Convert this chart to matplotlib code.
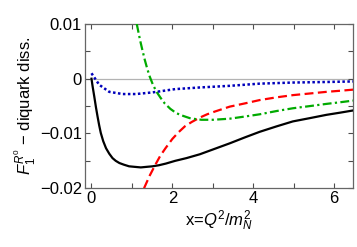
import numpy as np
import matplotlib.pyplot as plt
from matplotlib.ticker import MultipleLocator

plt.rcParams['font.family'] = ['Liberation Sans', 'DejaVu Sans']
plt.rcParams['mathtext.fontset'] = 'custom'
plt.rcParams['mathtext.rm'] = 'Liberation Sans'
plt.rcParams['mathtext.it'] = 'Liberation Sans:italic'

# values
x_black = [0.0, 0.03, 0.07, 0.11, 0.15, 0.19, 0.23, 0.29, 0.36, 0.44, 0.52, 0.60, 0.69, 0.80,
           0.93, 1.07, 1.22, 1.36, 1.51, 1.67, 1.84, 2.07, 2.35, 2.68, 3.05, 3.42, 3.80,
           4.16, 4.58, 4.98, 5.40, 5.81, 6.15, 6.47]
y_black = [0.0, -0.0015, -0.0033, -0.0052, -0.0069, -0.0085, -0.0099, -0.0114, -0.0127,
           -0.0137, -0.0145, -0.0150, -0.0154, -0.0157, -0.0160, -0.0161, -0.0162, -0.0161,
           -0.0160, -0.0158, -0.0155, -0.0150, -0.0145, -0.0138, -0.0128, -0.0118, -0.0107,
           -0.0097, -0.0087, -0.0078, -0.0072, -0.0066, -0.0062, -0.0058]

x_blue = [0.0, 0.19, 0.44, 0.77, 1.10, 1.51, 2.07, 2.68, 3.42, 4.16, 4.98, 5.81, 6.47]
y_blue = [0.0010, -0.0011, -0.0024, -0.0028, -0.0028, -0.0025, -0.0019, -0.0016, -0.0013,
          -0.0009, -0.0007, -0.0006, -0.0005]

x_green = [1.12, 1.20, 1.26, 1.32, 1.38, 1.44, 1.52, 1.61, 1.71, 1.81, 1.95, 2.10, 2.27,
           2.43, 2.60, 2.72, 3.01, 3.42, 3.80, 4.16, 4.58, 4.98, 5.40, 5.81, 6.15, 6.47]
y_green = [0.0100, 0.0071, 0.0052, 0.0034, 0.0018, 0.0004, -0.0011, -0.0024, -0.0035,
           -0.0045, -0.0055, -0.0063, -0.0068, -0.0072, -0.0074, -0.0075, -0.0075, -0.0073,
           -0.0069, -0.0065, -0.0059, -0.0054, -0.0050, -0.0046, -0.0043, -0.0040]

x_red = [1.30, 1.44, 1.58, 1.70, 1.83, 2.0, 2.15, 2.31, 2.48, 2.68, 2.86, 3.05, 3.42, 3.80,
         4.16, 4.58, 4.98, 5.40, 5.81, 6.15, 6.47]
y_red = [-0.0200, -0.0177, -0.0157, -0.0141, -0.0127, -0.0110, -0.0098, -0.0087, -0.0079,
         -0.0071, -0.0065, -0.0060, -0.0051, -0.0045, -0.0039, -0.0034, -0.0030, -0.0027,
         -0.0024, -0.0022, -0.0020]

yticks = [-0.02, -0.01, 0.0, 0.01]
ytick_labels = ['\u22120.02', '\u22120.01', '0', '0.01']
xticks = [0, 2, 4, 6]


def main():
    fig = plt.figure(figsize=(3.57, 2.47), dpi=100)
    ax = fig.add_axes([0.237, 0.238, 0.752, 0.665])

    ax.axhline(0, color='0.7', lw=0.9, zorder=1)
    ax.plot(x_black, y_black, color='black', lw=1.6, zorder=3)
    ax.plot(x_red, y_red, color='#ff0000', lw=1.6, dashes=(4, 2), zorder=3)
    ax.plot(x_green, y_green, color='#00aa00', lw=1.6, dashes=(4, 1.5, 1, 1.5), zorder=3)
    ax.plot(x_blue, y_blue, color='#0000bb', lw=1.8, dashes=(1, 1), zorder=3)

    ax.set_xlim(-0.17, 6.47)
    ax.set_ylim(-0.02, 0.01)
    ax.set_xticks(xticks)
    ax.set_yticks(yticks)
    ax.set_yticklabels(ytick_labels)
    ax.xaxis.set_minor_locator(MultipleLocator(1))
    ax.yaxis.set_minor_locator(MultipleLocator(0.005))
    ax.tick_params(which='both', direction='in', top=True, right=True,
                   length=3.5, width=0.8, color='0.3', labelsize=12, pad=2)
    for s in ax.spines.values():
        s.set_color('0.4')
        s.set_linewidth(0.9)

    ax.set_xlabel(r'x=$Q^2/m_N^2$', fontsize=12, labelpad=2)
    ax.set_ylabel(r'$F_1^{R^0}$ $-$ diquark diss.', fontsize=12, labelpad=1)

    fig.savefig('out.png', dpi=100)


if __name__ == '__main__':
    main()
